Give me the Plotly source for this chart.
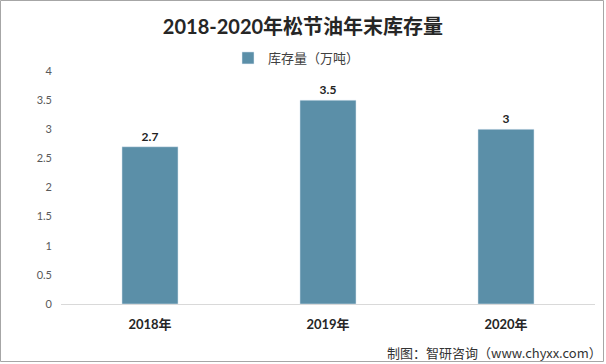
import plotly.graph_objects as go

categories = ["2018年", "2019年", "2020年"]
values = [2.7, 3.5, 3.0]
value_labels = ["2.7", "3.5", "3"]
series_name = "库存量（万吨）"
y_ticks = [0, 0.5, 1, 1.5, 2, 2.5, 3, 3.5, 4]
y_tick_labels = ["0", "0.5", "1", "1.5", "2", "2.5", "3", "3.5", "4"]

W, H = 606, 364
L, R, T, B = 61, 11, 71, 60
pw, ph = W - L - R, H - T - B

def px_x(x):
    return (x - L) / pw

def px_y(y):
    return (H - B - y) / ph

fig = go.Figure()
fig.add_trace(go.Bar(
    x=categories, y=values, name=series_name,
    marker_color="#5B8FA8", width=0.315,
    text=value_labels, textposition="outside",
    textfont=dict(family="Lato, Noto Sans CJK SC", size=12, color="#222222", weight="bold"),
    cliponaxis=False,
))

fig.update_layout(
    width=W, height=H,
    margin=dict(l=L, r=R, t=T, b=B),
    paper_bgcolor="white", plot_bgcolor="white",
    font=dict(family="Noto Sans CJK SC", size=12, color="#595959"),
    title=dict(text="<b>2018-2020年松节油年末库存量</b>", x=0.5, xanchor="center",
               y=1 - 27 / H, yanchor="middle",
               font=dict(family="Lato, Noto Sans CJK SC", size=20, color="#262626")),
    showlegend=True,
    legend=dict(orientation="h", x=px_x(228), xanchor="left", y=px_y(58), yanchor="middle",
                font=dict(family="Noto Sans CJK SC", size=13, color="#404040"),
                bgcolor="rgba(0,0,0,0)"),
    xaxis=dict(showline=True, linecolor="#D9D9D9", linewidth=1, ticks="",
               tickfont=dict(family="Lato, Noto Sans CJK SC", size=13, color="#262626",
                             weight="bold"),
               ticklabelstandoff=8),
    yaxis=dict(range=[0, 4], tickvals=y_ticks, ticktext=y_tick_labels, showgrid=False,
               zeroline=False, showline=False, ticks="",
               tickfont=dict(family="Lato, Noto Sans", size=11, color="#595959"),
               ticklabelstandoff=8),
    bargap=0.685,
)

fig.add_annotation(text="制图：智研咨询（www.chyxx.com）", xref="paper", yref="paper",
                   x=px_x(604), y=px_y(352), xanchor="right", yanchor="middle",
                   showarrow=False,
                   font=dict(family="Noto Sans CJK SC", size=13, color="#333333"))

fig.add_shape(type="rect", xref="paper", yref="paper",
              x0=px_x(0.5), x1=px_x(603.5), y0=px_y(0.5), y1=px_y(361.5),
              line=dict(color="#A6A6A6", width=1), fillcolor="rgba(0,0,0,0)")

fig.write_html("out.html", config={"displayModeBar": False},
               post_script="document.body.style.margin='0';")
